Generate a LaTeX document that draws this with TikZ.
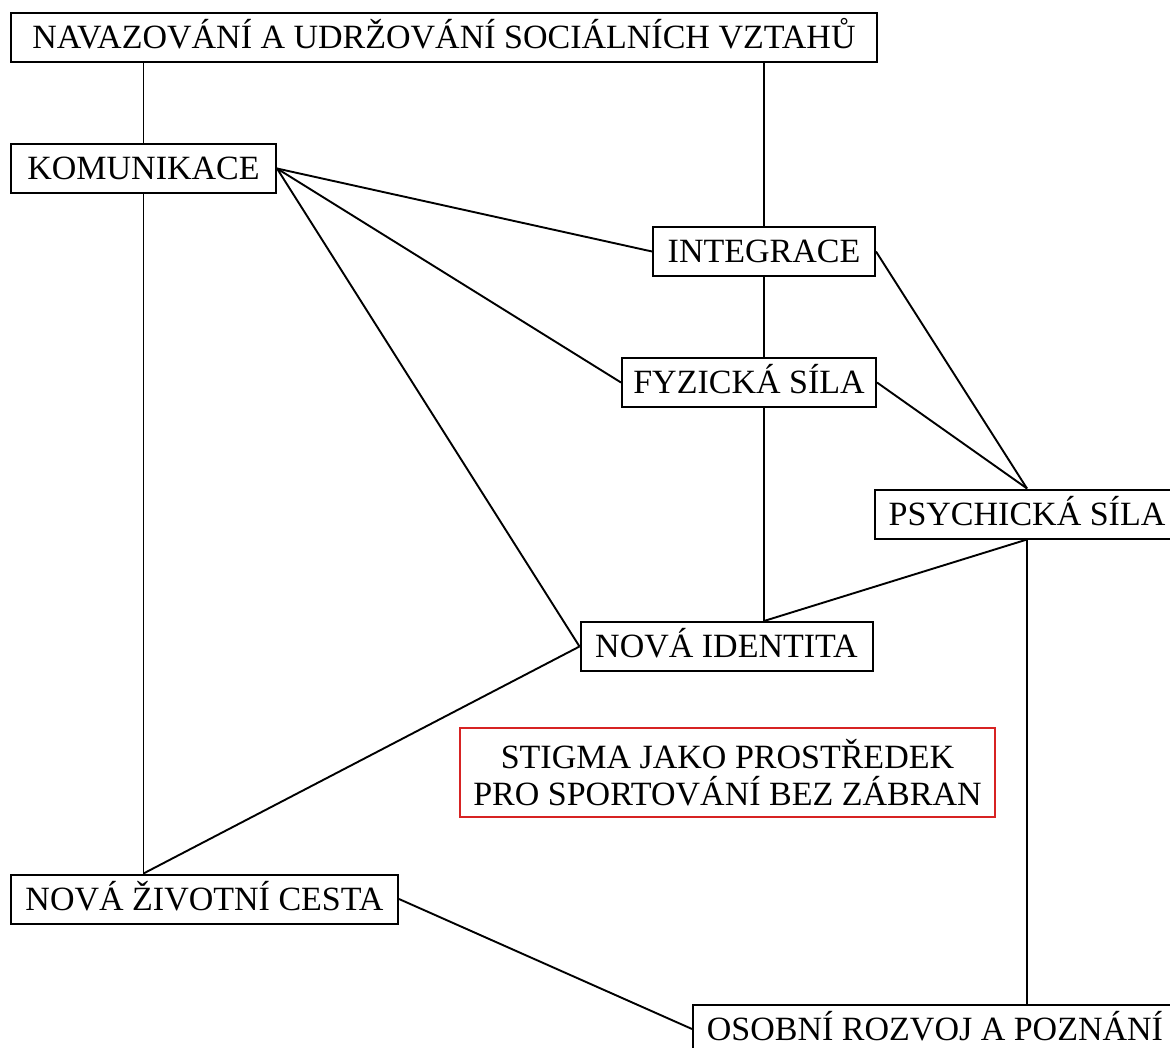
\documentclass[tikz,border=0pt]{standalone}
\usepackage{fontspec}
\setmainfont{Liberation Serif}
\definecolor{stigmared}{RGB}{215,35,35}
\tikzset{
  box/.style={draw, line width=2pt, minimum height=49pt, inner xsep=0pt, inner ysep=0pt, text height=30pt, text depth=7.5pt, font=\fontsize{34}{38}\selectfont},
  redbox/.style={draw=stigmared, line width=1.5pt, minimum height=89pt, inner sep=0pt, align=center, font=\fontsize{34}{37}\selectfont},
  link/.style={line width=1.9pt}
}
\begin{document}
\begin{tikzpicture}[x=1pt, y=-1pt]
    \useasboundingbox (0,0) rectangle (1170,1048);
    \clip (0,0) rectangle (1170,1048);
    \node[box, minimum width=866pt] (nav) at (444,37.5) {NAVAZOVÁNÍ A UDRŽOVÁNÍ SOCIÁLNÍCH VZTAHŮ};
    \node[box, minimum width=265pt] (kom) at (143.5,168.5) {KOMUNIKACE};
    \node[box, minimum width=222pt] (int) at (764,251.5) {INTEGRACE};
    \node[box, minimum width=254pt] (fyz) at (749,382.5) {FYZICKÁ SÍLA};
    \node[box, minimum width=304pt] (psy) at (1027,514) {PSYCHICKÁ SÍLA};
    \node[box, minimum width=292pt] (nid) at (726.5,646.5) {NOVÁ IDENTITA};
    \node[redbox, minimum width=535pt] (stg) at (727.5,772.5) {STIGMA JAKO PROSTŘEDEK\\PRO SPORTOVÁNÍ BEZ ZÁBRAN};
    \node[box, minimum width=387pt] (nzc) at (204.5,899) {NOVÁ ŽIVOTNÍ CESTA};
    \node[box, minimum width=484pt] (osr) at (935,1029) {OSOBNÍ ROZVOJ A POZNÁNÍ};
    \draw[link] (nav.south -| kom.north) -- (kom.north);
    \draw[link] (nav.south -| int.north) -- (int.north);
    \draw[link] (kom.south) -- (nzc.north -| kom.south);
    \draw[link] (int.south) -- (fyz.north -| int.south);
    \draw[link] (fyz.south -| int.south) -- (nid.north -| int.south);
    \draw[link] (psy.south) -- (osr.north -| psy.south);
    \foreach \t in {int, fyz, nid} \draw[link] (kom.east) -- (\t.west);
    \foreach \s in {int, fyz} \draw[link] (\s.east) -- (psy.north);
    \draw[link] (psy.south) -- (nid.north -| int.south);
    \draw[link] (nid.west) -- (nzc.north -| kom.south);
    \draw[link] (nzc.east) -- (osr.west);
\end{tikzpicture}
\end{document}
